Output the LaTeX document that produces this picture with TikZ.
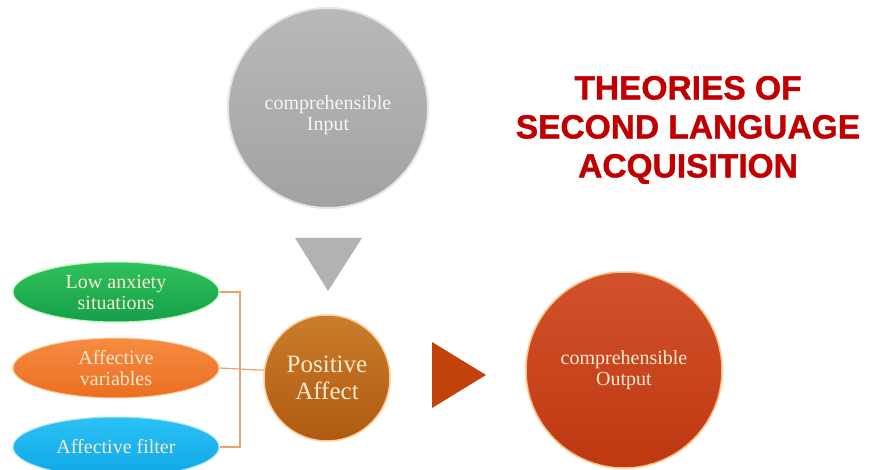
\documentclass[tikz,border=0pt]{standalone}
\usepackage{fontspec}
\setmainfont{Liberation Serif}
\newfontfamily\titlefont[UprightFont=* Bold,FakeBold=1.2]{Liberation Sans}
\usetikzlibrary{shapes.geometric}
\definecolor{titlered}{HTML}{C00000}
\definecolor{cream}{HTML}{FBEBD2}
\definecolor{linktan}{HTML}{E9A26E}
\definecolor{grayA}{HTML}{B9B9B9}
\definecolor{grayB}{HTML}{A2A2A2}
\definecolor{greenA}{HTML}{30C05C}
\definecolor{greenB}{HTML}{15A048}
\definecolor{orangeA}{HTML}{F68C42}
\definecolor{orangeB}{HTML}{EC6E20}
\definecolor{blueA}{HTML}{2CC2F6}
\definecolor{blueB}{HTML}{0EA6E6}
\definecolor{brownA}{HTML}{CB7C2C}
\definecolor{brownB}{HTML}{AF5A10}
\definecolor{redA}{HTML}{D2522C}
\definecolor{redB}{HTML}{BE3810}
\definecolor{arrowred}{HTML}{C2420C}
\begin{document}
\begin{tikzpicture}[x=1pt,y=-1pt,
  disc/.style={circle,inner sep=0pt,align=center,text=cream},
  oval/.style={ellipse,inner sep=0pt,minimum width=206pt,minimum height=60pt,
    align=center,text=cream,font=\fontsize{20}{21}\selectfont},
  link/.style={draw=linktan,line width=1.2pt},
  titletext/.style={font=\titlefont\fontsize{33.5}{39}\selectfont,text=titlered,align=center}]
  \useasboundingbox (0,0) rectangle (872,470);
  \fill[white] (0,0) rectangle (872,470);

  % input circle, its caption sits a little below the centre
  \node[disc,minimum size=200pt,top color=grayA,bottom color=grayB,
        draw=gray!20,line width=2pt] (input) at (328,108) {};
  \node[align=center,text=gray!8,font=\fontsize{20}{21}\selectfont]
        (inputlbl) at (328,115) {comprehensible\\Input};

  % downward arrow
  \fill[gray!60] (295,238) -- (362,238) -- (328,291) -- cycle;

  % title
  \node[titletext] (title) at (688,130)
    {THEORIES OF\\SECOND LANGUAGE\\ACQUISITION};

  % three factors
  \node[oval,top color=greenA,bottom color=greenB,
        draw=green!30!white,line width=1pt] (low) at (116,292)
        {Low anxiety\\situations};
  \node[oval,top color=orangeA,bottom color=orangeB,
        draw=orange!40!white,line width=1pt] (vars) at (116,368)
        {Affective\\variables};
  \node[oval,top color=blueA,bottom color=blueB,
        draw=cyan!35!white,line width=1pt] (filt) at (116,447)
        {Affective filter};

  % positive affect
  \node[disc,minimum size=126pt,top color=brownA,bottom color=brownB,
        draw=orange!40!white,line width=1.5pt,
        font=\fontsize{25}{27}\selectfont] (pos) at (327,378)
        {Positive\\Affect};

  % bracket joining the factors
  \coordinate (bus) at (240,292);
  \draw[link] (low.east) -- (bus) |- (filt.east);
  \draw[link] (vars.east) -- (pos.173);

  % right arrow
  \fill[arrowred] (432,342) -- (486,375) -- (432,408) -- cycle;

  % output circle
  \node[disc,minimum size=196pt,top color=redA,bottom color=redB,
        draw=orange!50!white,line width=1.5pt,
        font=\fontsize{20}{21}\selectfont] (output) at (624,370)
        {comprehensible\\Output};
\end{tikzpicture}
\end{document}
